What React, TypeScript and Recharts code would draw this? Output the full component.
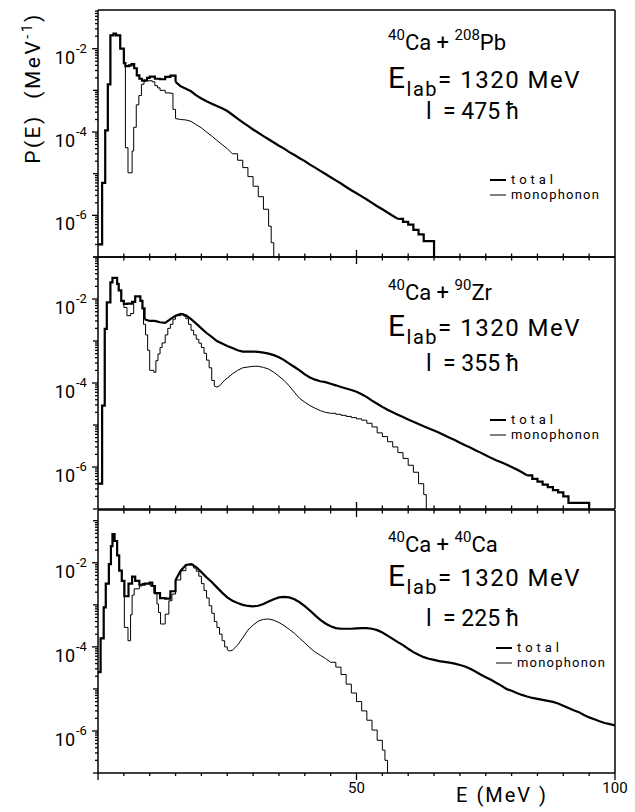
import React from 'react';
import { LineChart, Line, XAxis, YAxis } from 'recharts';

const FONT = "Roboto, 'DejaVu Sans', sans-serif";
const INK = '#000';

// ---------- axis ticks ----------
const xTicks = [0, 5, 10, 15, 20, 25, 30, 35, 40, 45, 50, 55, 60, 65, 70, 75, 80, 85, 90, 95, 100];
const xLabelTicks = [50, 100];
const yDecades = [-7, -6, -5, -4, -3, -2, -1];
const yMinorSteps = [1, 2, 3, 4, 5, 6, 7, 8, 9];
const yLabelExps = [-2, -4, -6];

// ---------- data: [E (MeV), P(E) (MeV^-1)] ----------
// 40Ca + 208Pb
const pbTotal: [number, number][] = [
  [0, 2e-7], [0.8, 6e-6], [1.4, 1.1e-4], [1.9, 1.4e-3], [2.4, 2.1e-2], [3, 2.3e-2], [3.5, 2.1e-2], [4.3, 1.0e-2],
  [5, 4.5e-3], [5.3, 3.8e-3], [6, 4.0e-3], [6.5, 4.3e-3], [7, 3.4e-3], [7.5, 2.3e-3], [8, 1.9e-3], [8.5, 1.7e-3],
  [9, 1.75e-3], [9.5, 2.0e-3], [10, 2.15e-3], [11, 1.9e-3], [12, 1.85e-3], [13, 2.1e-3], [14, 2.25e-3], [15, 1.6e-3],
  [16, 1.25e-3], [17, 1.1e-3], [18, 9.5e-4], [19, 7.6e-4], [20, 6.4e-4], [21, 5.5e-4], [22, 4.8e-4], [23, 4.2e-4],
  [24, 3.7e-4], [25, 3.2e-4], [26, 2.6e-4], [27, 2.1e-4], [28, 1.7e-4], [29, 1.4e-4], [30, 1.15e-4], [31, 9.6e-5],
  [32, 8.0e-5], [33, 6.7e-5], [34, 5.6e-5], [35, 4.7e-5], [36, 4.0e-5], [37, 3.3e-5], [38, 2.8e-5], [39, 2.35e-5],
  [40, 2.0e-5], [41, 1.65e-5], [42, 1.4e-5], [43, 1.17e-5], [44, 9.8e-6], [45, 8.2e-6], [46, 6.9e-6], [47, 5.8e-6],
  [48, 4.8e-6], [49, 4.0e-6], [50, 3.4e-6], [51, 2.85e-6], [52, 2.4e-6], [53, 2.0e-6], [54, 1.65e-6], [55, 1.4e-6],
  [56, 1.17e-6], [57, 9.8e-7], [58, 8.2e-7], [59, 7.0e-7], [60, 6.0e-7], [61, 4.5e-7], [62, 3.5e-7], [63, 2.4e-7],
  [65, 1e-9],
];
const pbMono: [number, number][] = [
  [0, 2e-7], [0.8, 6e-6], [1.4, 1.1e-4], [1.9, 1.4e-3], [2.4, 2.1e-2], [3, 2.3e-2], [3.5, 2.1e-2], [4.3, 1.0e-2],
  [5, 4.5e-3], [5.3, 4.2e-5], [5.8, 1.05e-5], [6.6, 3.5e-5], [6.9, 1.3e-4], [7.4, 4.5e-4], [7.9, 7.5e-4], [8.4, 1.4e-3],
  [8.9, 1.65e-3], [9.4, 1.7e-3], [10.5, 1.6e-3], [11, 1.3e-3], [11.5, 1.15e-3], [12, 1.0e-3], [13, 8.7e-4], [14, 8.5e-4],
  [14.5, 3.5e-4], [15, 2.1e-4], [16, 2.0e-4], [17, 1.95e-4], [18, 1.8e-4], [19, 1.5e-4], [20, 1.26e-4], [21, 1.0e-4],
  [22, 8.0e-5], [23, 6.3e-5], [24, 5.0e-5], [25, 4.0e-5], [26, 3.0e-5], [27, 2.1e-5], [28, 1.4e-5], [29, 8.5e-6],
  [30, 5.0e-6], [31, 2.8e-6], [32, 1.4e-6], [33, 5.5e-7], [33.5, 2.2e-7], [34, 1e-9],
];

// 40Ca + 90Zr
const zrTotal: [number, number][] = [
  [0, 4e-7], [0.8, 2.9e-5], [1.3, 1.95e-3], [1.7, 8.3e-3], [2.4, 2.5e-2], [2.8, 3.2e-2], [3.7, 2.3e-2], [4, 1.6e-2],
  [4.5, 9e-3], [5, 7.6e-3], [5.6, 7.8e-3], [6.6, 8.5e-3], [7.2, 1.15e-2], [8.2, 9e-3], [8.6, 6e-3], [9, 3.3e-3],
  [10, 3.0e-3], [11, 3.0e-3], [12, 2.8e-3], [13, 2.7e-3], [14, 3.3e-3], [15, 4.0e-3], [16, 4.4e-3], [17, 4.1e-3],
  [18, 3.3e-3], [19, 2.6e-3], [20, 2.0e-3], [21, 1.55e-3], [22, 1.25e-3], [23, 1.0e-3], [24, 8.7e-4], [25, 7.6e-4],
  [26, 6.8e-4], [27, 6.0e-4], [28, 5.6e-4], [29, 5.6e-4], [30, 5.6e-4], [31, 5.5e-4], [32, 5.3e-4], [33, 5.0e-4],
  [34, 4.6e-4], [35, 4.1e-4], [36, 3.5e-4], [37, 2.9e-4], [38, 2.4e-4], [39, 2.0e-4], [40, 1.6e-4], [41, 1.35e-4],
  [42, 1.2e-4], [43, 1.1e-4], [44, 1.05e-4], [45, 9.6e-5], [46, 8.8e-5], [47, 8.0e-5], [48, 7.4e-5], [49, 6.8e-5],
  [50, 6.2e-5], [51, 5.4e-5], [52, 4.6e-5], [53, 3.8e-5], [54, 3.2e-5], [55, 2.7e-5], [56, 2.3e-5], [57, 2.0e-5],
  [58, 1.75e-5], [59, 1.55e-5], [60, 1.35e-5], [61, 1.2e-5], [62, 1.05e-5], [63, 9.3e-6], [64, 8.3e-6], [65, 7.4e-6],
  [66, 6.5e-6], [67, 5.7e-6], [68, 5.0e-6], [69, 4.4e-6], [70, 3.8e-6], [71, 3.3e-6], [72, 2.9e-6], [73, 2.5e-6],
  [74, 2.2e-6], [75, 1.9e-6], [76, 1.65e-6], [77, 1.45e-6], [78, 1.3e-6], [79, 1.15e-6], [80, 1.0e-6], [81, 8.7e-7],
  [82, 7.5e-7], [83, 6.3e-7], [84, 5.2e-7], [85, 4.5e-7], [86, 3.8e-7], [87, 3.3e-7], [88, 2.8e-7], [89, 2.5e-7],
  [90, 2.0e-7], [91, 1.4e-7], [95, 1e-9],
];
const zrMono: [number, number][] = [
  [0, 4e-7], [0.8, 2.9e-5], [1.3, 1.95e-3], [1.7, 8.3e-3], [2.4, 2.5e-2], [2.8, 3.2e-2], [3.7, 2.3e-2], [4, 1.6e-2],
  [4.5, 9e-3], [5, 6.3e-3], [5.6, 4e-3], [6.3, 4.5e-3], [6.9, 8.3e-3], [7.2, 1.15e-2], [8.2, 9e-3], [8.6, 6e-3],
  [8.8, 2.5e-3], [9.2, 1.4e-3], [9.6, 6e-4], [10, 2e-4], [10.8, 1.8e-4], [11.2, 3.4e-4], [11.6, 4.9e-4], [12, 7e-4],
  [12.4, 9e-4], [13, 1.4e-3], [13.5, 2.0e-3], [14, 2.5e-3], [14.5, 3.3e-3], [15, 4.0e-3], [16, 4.4e-3], [16.6, 3.9e-3],
  [17, 3.4e-3], [17.5, 2.5e-3], [18, 1.8e-3], [18.5, 1.4e-3], [19, 1.1e-3], [19.5, 8.9e-4], [20, 7.0e-4], [20.5, 5.1e-4],
  [21, 3.5e-4], [21.5, 2.3e-4], [22, 1.15e-4], [22.5, 8.5e-5], [23, 8e-5], [23.5, 8.5e-5], [24, 1.0e-4], [24.5, 1.17e-4],
  [25, 1.3e-4], [26, 1.65e-4], [27, 2.0e-4], [28, 2.3e-4], [29, 2.4e-4], [30, 2.5e-4], [31, 2.5e-4], [32, 2.35e-4],
  [33, 2.15e-4], [34, 1.8e-4], [35, 1.45e-4], [36, 1.15e-4], [37, 8.5e-5], [38, 6.0e-5], [39, 4.3e-5], [40, 3.5e-5],
  [41, 2.9e-5], [42, 2.5e-5], [43, 2.2e-5], [44, 2.0e-5], [45, 1.9e-5], [46, 1.8e-5], [47, 1.7e-5], [48, 1.6e-5],
  [49, 1.5e-5], [50, 1.4e-5], [51, 1.3e-5], [52, 1.1e-5], [53, 9e-6], [54, 6.5e-6], [55, 5.3e-6], [56, 4e-6],
  [57, 3e-6], [58, 2.2e-6], [59, 1.6e-6], [60, 1.1e-6], [61, 7.5e-7], [62, 4e-7], [63, 2.2e-7], [63.5, 1e-9],
];

// 40Ca + 40Ca
const caTotal: [number, number][] = [
  [0, 2.5e-5], [0.5, 1.6e-4], [1.1, 8.7e-4], [1.5, 3.2e-3], [2.1, 9.3e-3], [2.5, 2.5e-2], [2.8, 4.8e-2], [3.2, 3.3e-2],
  [3.7, 1.5e-2], [4.1, 6.5e-3], [4.6, 3.7e-3], [5.1, 1.6e-3], [5.9, 3.2e-3], [6.6, 4.7e-3], [7.2, 3.7e-3], [8, 3.0e-3],
  [9, 3.2e-3], [10, 3.4e-3], [10.5, 2.8e-3], [11, 1.9e-3], [12, 1.45e-3], [13, 1.4e-3], [14, 2.1e-3], [15, 3.9e-3],
  [16, 6.5e-3], [17, 8.9e-3], [18, 9.3e-3], [19, 7.9e-3], [20, 6.0e-3], [21, 4.5e-3], [22, 3.5e-3], [23, 2.6e-3],
  [24, 1.95e-3], [25, 1.5e-3], [26, 1.25e-3], [27, 1.1e-3], [28, 1.0e-3], [29, 9.4e-4], [30, 9.2e-4], [31, 9.5e-4],
  [32, 1.05e-3], [33, 1.2e-3], [34, 1.35e-3], [35, 1.5e-3], [36, 1.55e-3], [37, 1.5e-3], [38, 1.35e-3], [39, 1.15e-3],
  [40, 9.3e-4], [41, 7.3e-4], [42, 5.6e-4], [43, 4.4e-4], [44, 3.6e-4], [45, 3.1e-4], [46, 2.8e-4], [47, 2.7e-4],
  [48, 2.7e-4], [49, 2.7e-4], [50, 2.75e-4], [51, 2.8e-4], [52, 2.8e-4], [53, 2.7e-4], [54, 2.5e-4], [55, 2.2e-4],
  [56, 1.85e-4], [57, 1.55e-4], [58, 1.3e-4], [59, 1.1e-4], [60, 9e-5], [61, 7.5e-5], [62, 6.5e-5], [63, 5.7e-5],
  [64, 5.2e-5], [65, 4.9e-5], [66, 4.6e-5], [67, 4.4e-5], [68, 4.2e-5], [69, 4.0e-5], [70, 3.7e-5], [71, 3.4e-5],
  [72, 3.0e-5], [73, 2.6e-5], [74, 2.2e-5], [75, 1.9e-5], [76, 1.65e-5], [77, 1.4e-5], [78, 1.2e-5], [79, 1.0e-5],
  [80, 9e-6], [81, 8e-6], [82, 7.2e-6], [83, 6.6e-6], [84, 6.1e-6], [85, 5.8e-6], [86, 5.5e-6], [87, 5.2e-6],
  [88, 4.9e-6], [89, 4.5e-6], [90, 4.0e-6], [91, 3.5e-6], [92, 3.1e-6], [93, 2.8e-6], [94, 2.4e-6], [95, 2.1e-6],
  [96, 1.9e-6], [97, 1.7e-6], [98, 1.55e-6], [99, 1.45e-6], [100, 1.35e-6],
];
const caMono: [number, number][] = [
  [0, 2.5e-5], [0.5, 1.6e-4], [1.1, 8.7e-4], [1.5, 3.2e-3], [2.1, 9.3e-3], [2.5, 2.5e-2], [2.8, 4.8e-2], [3.2, 3.3e-2],
  [3.7, 1.5e-2], [4.1, 6.5e-3], [4.6, 3.7e-3], [5.1, 2.9e-4], [5.8, 1.4e-4], [6.3, 5.8e-4], [6.6, 1.7e-3], [7, 2.4e-3],
  [8, 2.8e-3], [8.5, 3.2e-3], [9.5, 3.2e-3], [10.1, 2.8e-3], [10.8, 1.9e-3], [11.4, 1.05e-3], [11.7, 6.6e-4], [12.1, 3.5e-4],
  [12.7, 3.5e-4], [13, 6e-4], [13.7, 1.25e-3], [14.3, 1.8e-3], [15, 3.9e-3], [16, 6.5e-3], [17, 8.9e-3], [18, 9.3e-3],
  [18.5, 7.5e-3], [19, 6.3e-3], [19.5, 4.8e-3], [20, 3.2e-3], [20.5, 2.2e-3], [21, 1.45e-3], [21.5, 9.5e-4], [22, 6.3e-4],
  [22.5, 4.0e-4], [23, 2.9e-4], [23.5, 2.0e-4], [24, 1.4e-4], [24.5, 1.0e-4], [25, 8.5e-5], [25.5, 8e-5], [26, 8.3e-5],
  [27, 1.1e-4], [28, 1.65e-4], [29, 2.5e-4], [30, 3.3e-4], [31, 4.1e-4], [32, 4.5e-4], [33, 4.6e-4], [34, 4.3e-4],
  [35, 3.8e-4], [36, 3.2e-4], [37, 2.6e-4], [38, 2.1e-4], [39, 1.6e-4], [40, 1.25e-4], [41, 9.5e-5], [42, 7.5e-5],
  [43, 6.3e-5], [44, 5.3e-5], [45, 4.3e-5], [46, 3.3e-5], [47, 2.2e-5], [48, 1.3e-5], [49, 8e-6], [50, 5e-6],
  [51, 3e-6], [52, 1.8e-6], [53, 1.05e-6], [54, 6e-7], [55, 3.5e-7], [55.5, 2e-7], [56, 1e-9],
];

const rows = (s: [number, number][]) => s.map(([e, p]) => ({ e, p }));

// split a histogram into a stepped head, a smooth middle and a stepped tail
function split(s: [number, number][], a: number, b: number) {
  return {
    head: rows(s.filter(([e]) => e <= a)),
    mid: rows(s.filter(([e]) => e >= a && e <= b)),
    tail: rows(s.filter(([e]) => e >= b)),
  };
}

function logTicks(max: number): number[] {
  const out: number[] = [];
  yDecades.forEach((d) => {
    yMinorSteps.forEach((m) => {
      const v = m * Math.pow(10, d);
      if (v <= max * 1.0001) out.push(v);
    });
  });
  return out;
}

function LogTick(props: any) {
  const { x, y, payload } = props;
  const v = payload.value as number;
  const lg = Math.log10(v);
  const exp = Math.round(lg);
  const major = Math.abs(lg - exp) < 1e-6;
  const labeled = major && yLabelExps.includes(exp);
  const len = labeled ? 6 : major ? 5 : 3;
  return (
    <g>
      <line x1={x} x2={x - len} y1={y} y2={y} stroke={INK} strokeWidth={1.3} />
      {labeled && (
        <g fontFamily={FONT} fill={INK}>
          <text x={x - 23} y={y + 15} textAnchor="end" fontSize={18}>10</text>
          <text x={x - 22} y={y + 4} fontSize={13}>{'-' + Math.abs(exp)}</text>
        </g>
      )}
    </g>
  );
}

type TickKind = 'none' | 'up' | 'down' | 'outer';
function xTickRenderer(kind: TickKind) {
  return (props: any) => {
    const { x, y, payload } = props;
    const v = payload.value as number;
    if (kind === 'none') return <g />;
    const big = xLabelTicks.includes(v);
    if (kind === 'outer') {
      const len = big || v === 0 ? 7 : 3;
      return (
        <g>
          <line x1={x} x2={x} y1={y} y2={y + len} stroke={INK} strokeWidth={1.3} />
          {big && (
            <text x={x} y={y + 20} textAnchor="middle" fontSize={15} fontFamily={FONT} fill={INK}>{v}</text>
          )}
        </g>
      );
    }
    if (v === 0 || v === 100) return <g />;
    const len = big ? 7 : 3.5;
    const s = kind === 'down' ? 1 : -1;
    return <line x1={x} x2={x} y1={y} y2={y + s * len} stroke={INK} strokeWidth={1.3} />;
  };
}

const axisLine = { stroke: INK, strokeWidth: 1.5 };

function Panel(props: {
  top: number; bottom: number; yMax: number;
  total: [number, number][]; mono: [number, number][];
  totalBreaks: number[]; monoBreaks: number[];
  topKind: TickKind; bottomKind: TickKind; last?: boolean;
}) {
  const { top, bottom, yMax, total, mono, totalBreaks, monoBreaks, topKind, bottomKind, last } = props;
  const pad = 5;
  const chartTop = top - pad;
  const height = (last ? 812 : bottom + pad) - chartTop;
  const marginBottom = height - (bottom - chartTop) - 1;
  const ticks = logTicks(yMax);
  const t = split(total, totalBreaks[0], totalBreaks[1]);
  const m = split(mono, monoBreaks[0], monoBreaks[1]);
  const common = { xAxisId: 'b', yAxisId: 'l', dataKey: 'p', stroke: INK, dot: false, activeDot: false, isAnimationActive: false } as any;
  const segs = [
    { d: m.head, type: 'stepAfter', w: 1 }, { d: m.mid, type: 'linear', w: 1 }, { d: m.tail, type: 'stepAfter', w: 1 },
    { d: t.head, type: 'stepAfter', w: 2.2 }, { d: t.mid, type: 'linear', w: 2.2 }, { d: t.tail, type: 'stepAfter', w: 2.2 },
  ].filter((s) => s.d.length > 1);
  return (
    <div style={{ position: 'absolute', left: 0, top: chartTop, width: 635, height }}>
      <LineChart width={635} height={height} margin={{ top: pad - 1, right: 19, bottom: marginBottom, left: 0 }}>
        <XAxis xAxisId="b" dataKey="e" type="number" domain={[0, 100]} ticks={xTicks} interval={0} height={1}
          tickLine={false} tickSize={0} tickMargin={0} axisLine={axisLine} tick={xTickRenderer(bottomKind)} allowDataOverflow />
        <XAxis xAxisId="t" orientation="top" dataKey="e" type="number" domain={[0, 100]} ticks={xTicks} interval={0} height={1}
          tickLine={false} tickSize={0} tickMargin={0} axisLine={axisLine} tick={xTickRenderer(topKind)} allowDataOverflow />
        <YAxis yAxisId="l" scale="log" type="number" domain={[1e-7, yMax]} allowDataOverflow ticks={ticks} interval={0}
          width={98} tickLine={false} tickSize={0} tickMargin={0} axisLine={axisLine} tick={(p: any) => <LogTick {...p} />} />
        <YAxis yAxisId="r" orientation="right" type="number" domain={[0, 1]} width={1} ticks={[0, 1]} tick={false}
          tickLine={false} axisLine={axisLine} />
        {segs.map((s, i) => (
          <Line key={i} {...common} data={s.d} type={s.type as any} strokeWidth={s.w} />
        ))}
      </LineChart>
    </div>
  );
}

function Note(props: { top: number; a: string; b: string; l: string; dy: number[]; legX: number }) {
  const { top, a, b, l, dy, legX } = props;
  const [tY, eY, lY, g1, g2] = dy.map((d) => top + d);
  return (
    <g fontFamily={FONT} fill={INK}>
      <text x={388} y={tY} fontSize={22} style={{ whiteSpace: 'pre' }}>
        <tspan fontSize={15} dy={-10}>40</tspan>
        <tspan dy={10}>Ca + </tspan>
        <tspan fontSize={15} dy={-10}>{a}</tspan>
        <tspan dy={10}>{b}</tspan>
      </text>
      <text x={388} y={eY} style={{ whiteSpace: 'pre' }} letterSpacing={1.5}>
        <tspan fontSize={30}>E</tspan>
        <tspan fontSize={20} dy={8}>lab</tspan>
        <tspan fontSize={24} dy={-8}>= 1320 MeV</tspan>
      </text>
      <text x={426} y={lY} fontSize={23} style={{ whiteSpace: 'pre' }}>{'l  = ' + l + ' ħ'}</text>
      <line x1={legX} x2={legX + 16} y1={g1 - 4} y2={g1 - 4} stroke={INK} strokeWidth={2} />
      <text x={legX + 21} y={g1} fontSize={13} letterSpacing={4}>total</text>
      <line x1={legX} x2={legX + 16} y1={g2 - 4} y2={g2 - 4} stroke={INK} strokeWidth={1} />
      <text x={legX + 21} y={g2} fontSize={13} letterSpacing={1.2}>monophonon</text>
    </g>
  );
}

export default function App() {
  return (
    <div style={{ position: 'absolute', left: 0, top: 0, width: 635, height: 812, background: '#fff' }}>
      <Panel top={10} bottom={257} yMax={0.085} total={pbTotal} mono={pbMono} totalBreaks={[15, 58]}
        monoBreaks={[15, 26]} topKind="none" bottomKind="up" />
      <Panel top={257} bottom={509} yMax={0.1} total={zrTotal} mono={zrMono} totalBreaks={[9, 83]}
        monoBreaks={[22.5, 45]} topKind="down" bottomKind="up" />
      <Panel top={510} bottom={773} yMax={0.18} total={caTotal} mono={caMono} totalBreaks={[15, 100]}
        monoBreaks={[25, 45]} topKind="down" bottomKind="outer" last />
      <svg width={635} height={812} style={{ position: 'absolute', left: 0, top: 0, pointerEvents: 'none' }}>
        <text transform="translate(40,88) rotate(-90)" textAnchor="middle" fontSize={21} letterSpacing={2.5}
          fontFamily={FONT} fill={INK} style={{ whiteSpace: 'pre' }}>
          {'P(E)  (MeV'}
          <tspan fontSize={14} dy={-8}>-1</tspan>
          <tspan dy={8}>)</tspan>
        </text>
        <Note top={10} a="208" b="Pb" l="475" dy={[40, 78, 109, 174, 189]} legX={490} />
        <Note top={257} a="90" b="Zr" l="355" dy={[43, 79, 114, 167, 182]} legX={490} />
        <Note top={510} a="40" b="Ca" l="225" dy={[42, 76, 116, 142, 157]} legX={496} />
        <text x={502} y={802} textAnchor="middle" fontSize={20} letterSpacing={2} fontFamily={FONT} fill={INK}
          style={{ whiteSpace: 'pre' }}>E (MeV )</text>
      </svg>
    </div>
  );
}
